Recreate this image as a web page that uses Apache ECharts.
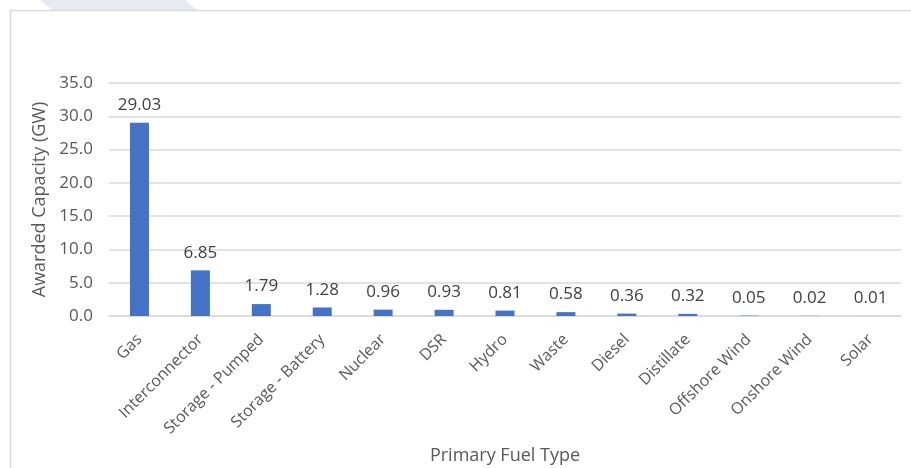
<!DOCTYPE html>
<html>
<head>
<meta charset="utf-8">
<style>
  html, body { margin: 0; padding: 0; background: #ffffff; }
  #chart { width: 911px; height: 468px; }
</style>
<script src="https://cdn.jsdelivr.net/npm/echarts@6/dist/echarts.min.js"></script>
</head>
<body>
<div id="chart"></div>
<script>
// Awarded capacity by primary fuel type (GW)
const fuelTypes = ['Gas', 'Interconnector', 'Storage - Pumped', 'Storage - Battery', 'Nuclear', 'DSR',
  'Hydro', 'Waste', 'Diesel', 'Distillate', 'Offshore Wind', 'Onshore Wind', 'Solar'];
const capacityGW = [29.03, 6.85, 1.79, 1.28, 0.96, 0.93, 0.81, 0.58, 0.36, 0.32, 0.05, 0.02, 0.01];
const yTicks = { min: 0, max: 35, interval: 5 };

const chart = echarts.init(document.getElementById('chart'), null, { renderer: 'canvas' });
const font = "'Open Sans', 'Noto Sans', sans-serif";

chart.setOption({
  animation: false,
  backgroundColor: '#ffffff',
  graphic: [
    {
      type: 'polygon',
      shape: { points: [[40, 0], [185, 0], [197, 10], [52, 10]] },
      style: { fill: '#e9e9f1' },
      z: -2
    },
    {
      type: 'rect',
      shape: { x: 10.5, y: 10.5, width: 930, height: 480 },
      style: { fill: 'none', stroke: '#d9d9d9', lineWidth: 1.5 },
      z: -1
    }
  ],
  grid: { left: 109, right: 10, top: 83, bottom: 152, containLabel: false, outerBoundsMode: 'none' },
  xAxis: {
    type: 'category',
    data: fuelTypes,
    name: 'Primary Fuel Type',
    nameLocation: 'middle',
    nameGap: 131,
    nameTextStyle: { fontFamily: font, fontSize: 18, color: '#595959' },
    axisLine: { lineStyle: { color: '#d9d9d9', width: 1.5 } },
    axisTick: { show: false },
    axisLabel: { rotate: 45, fontFamily: font, fontSize: 16, color: '#595959', margin: 21, interval: 0 }
  },
  yAxis: {
    type: 'value',
    min: yTicks.min,
    max: yTicks.max,
    interval: yTicks.interval,
    name: 'Awarded Capacity (GW)',
    nameLocation: 'middle',
    nameGap: 60,
    nameTextStyle: { fontFamily: font, fontSize: 18, color: '#595959' },
    axisLine: { show: false },
    axisTick: { show: false },
    axisLabel: { fontFamily: font, fontSize: 17, color: '#595959', margin: 16,
      formatter: v => v.toFixed(1) },
    splitLine: { lineStyle: { color: '#d9d9d9', width: 1.5 } }
  },
  series: [{
    type: 'bar',
    data: capacityGW,
    barWidth: 19,
    itemStyle: { color: '#4472c4' },
    label: {
      show: true,
      position: 'top',
      distance: 9,
      fontFamily: font,
      fontSize: 17,
      color: '#404040',
      formatter: p => p.value.toFixed(2)
    }
  }]
});
</script>
</body>
</html>
